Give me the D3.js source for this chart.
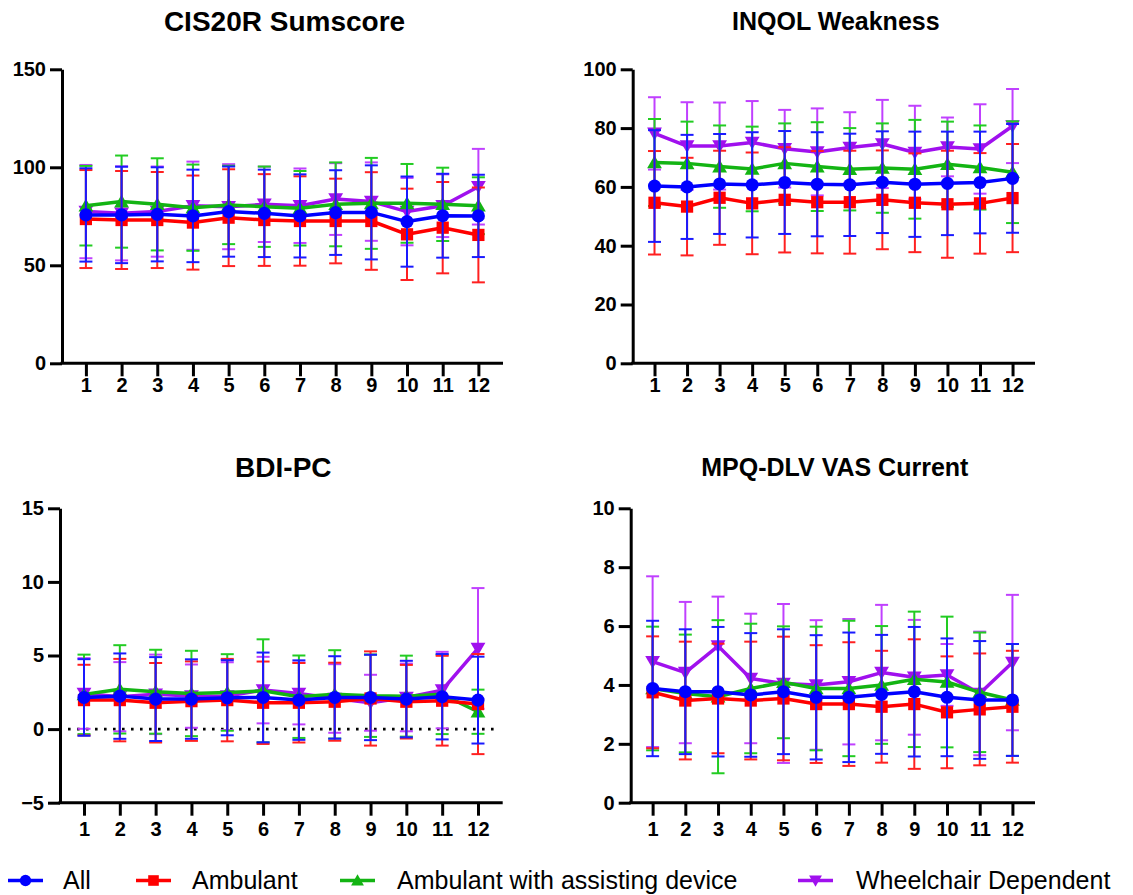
<!DOCTYPE html>
<html>
<head>
<meta charset="utf-8">
<script src="https://cdn.jsdelivr.net/npm/d3@7"></script>
<style>
  body { margin: 0; background: #fff; }
  svg { display: block; font-family: "Liberation Sans", Arial, sans-serif; }
</style>
</head>
<body>
<svg id="chart" width="1133" height="895"></svg>
<script>
// visits on the x axis
const visits = [1, 2, 3, 4, 5, 6, 7, 8, 9, 10, 11, 12];

// CIS20R Sumscore (mean, SD)
const cisAll = [75.7, 75.7, 76, 75.2, 77.4, 76.5, 75.2, 76.9, 77, 72.3, 75.3, 75.2];
const cisAllSd = [23.8, 24.6, 24, 23.6, 23, 22.3, 21.2, 21.6, 24, 23, 21.4, 21];
const cisAmb = [73.6, 73.1, 73.1, 71.8, 74.3, 73.1, 72.6, 72.6, 72.6, 65.8, 69.2, 65.5];
const cisAmbSd = [25, 25, 24.5, 24, 24.7, 23.4, 22.8, 21.6, 24.9, 23.3, 23.3, 24.2];
const cisAssist = [80.4, 82.5, 81.1, 79.4, 80.8, 79.9, 79.1, 81.1, 81.6, 81.6, 81.1, 80.4];
const cisAssistSd = [20.3, 23.5, 23.5, 22, 20, 20.5, 19, 21.4, 23.2, 20.1, 18.7, 14.5];
const cisWheel = [77.4, 76.5, 77.4, 80.4, 79.9, 81.1, 80.4, 83.8, 82.5, 77.4, 80.4, 90.1];
const cisWheelSd = [23.8, 24, 23, 22.5, 21.7, 19.2, 19, 18.3, 20, 17.2, 16, 19.3];

// INQOL Weakness
const inqAll = [60.3, 60, 61, 60.7, 61.5, 60.9, 60.7, 61.6, 60.9, 61.2, 61.5, 62.9];
const inqAllSd = [19, 17.7, 17, 17.9, 17.5, 17.7, 17.4, 17.3, 17.9, 17.6, 17.3, 18.5];
const inqAmb = [54.6, 53.3, 56.3, 54.4, 55.6, 54.8, 54.8, 55.6, 54.6, 54.1, 54.4, 56.2];
const inqAmbSd = [17.6, 16.6, 16, 17.3, 17.9, 17.4, 17.5, 16.8, 16.8, 18.2, 17.1, 18.4];
const inqAssist = [68.3, 68, 66.9, 66.1, 68, 66.9, 66, 66.4, 66, 67.7, 66.6, 65];
const inqAssistSd = [14.8, 14.2, 14, 14.4, 13.6, 15.1, 14, 15.2, 16.8, 14.5, 14.3, 17.3];
const inqWheel = [78.2, 73.9, 73.9, 75.1, 73, 71.9, 73.4, 74.6, 71.7, 73.6, 72.9, 80.7];
const inqWheelSd = [12.3, 14.9, 14.8, 14.1, 13.2, 14.8, 12, 15, 15.9, 10, 15.2, 12.6];

// BDI-PC
const bdiAll = [2.15, 2.24, 2.04, 2.04, 2.13, 2.15, 1.97, 2.15, 2.15, 2.04, 2.2, 1.97];
const bdiAllSd = [2.6, 2.9, 2.85, 2.7, 2.55, 3.05, 2.7, 2.8, 2.9, 2.6, 2.9, 2.95];
const bdiAmb = [1.97, 1.97, 1.79, 1.9, 1.97, 1.79, 1.79, 1.86, 2.08, 1.86, 1.93, 1.7];
const bdiAmbSd = [2.4, 2.8, 2.7, 2.7, 2.8, 2.8, 2.7, 2.65, 3.2, 2.5, 3.05, 3.4];
const bdiAssist = [2.36, 2.7, 2.54, 2.42, 2.49, 2.6, 2.2, 2.36, 2.27, 2.24, 2.36, 1.18];
const bdiAssistSd = [2.7, 3, 2.85, 2.9, 2.6, 3.5, 2.8, 3, 2.8, 2.75, 2.7, 1.5];
const bdiWheel = [2.42, 2.2, 2.36, 2.24, 2.24, 2.65, 2.42, 2.08, 1.79, 2.15, 2.65, 5.48];
const bdiWheelSd = [2.4, 2.35, 2.7, 2.15, 2.3, 2.26, 2.1, 2.33, 1.9, 2.3, 2.6, 4.1];

// MPQ-DLV VAS Current
const mpqAll = [3.88, 3.77, 3.77, 3.66, 3.77, 3.58, 3.58, 3.68, 3.77, 3.58, 3.49, 3.49];
const mpqAllSd = [2.3, 2.12, 2.2, 2.1, 2.12, 2.11, 2.2, 2.02, 2.2, 2, 2, 1.9];
const mpqAmb = [3.75, 3.47, 3.54, 3.47, 3.54, 3.35, 3.35, 3.26, 3.35, 3.07, 3.17, 3.26];
const mpqAmbSd = [1.9, 2, 1.86, 2, 2.1, 2, 2.1, 1.9, 2.2, 1.9, 1.9, 1.9];
const mpqAssist = [3.88, 3.71, 3.6, 3.88, 4.09, 3.88, 3.88, 4, 4.19, 4.1, 3.75, 3.49];
const mpqAssistSd = [2.1, 2, 2.6, 2.2, 1.9, 2.1, 2.3, 2, 2.3, 2.22, 2.03, 1.9];
const mpqWheel = [4.79, 4.42, 5.32, 4.22, 4.05, 4, 4.11, 4.42, 4.26, 4.34, 3.71, 4.76];
const mpqWheelSd = [2.9, 2.4, 1.68, 2.2, 2.7, 2.2, 2.13, 2.3, 1.95, 1.05, 2.1, 2.3];

const groupNames = ["All", "Ambulant", "Ambulant with assisting device", "Wheelchair Dependent"];

const groupStyle = [
  { line: "#0000ff", bar: "#1a1aff", symbol: d3.symbolCircle, size: 135, rot: 0 },
  { line: "#ff0000", bar: "#ff2020", symbol: d3.symbolSquare, size: 150, rot: 0 },
  { line: "#13b413", bar: "#22cc22", symbol: d3.symbolTriangle, size: 95, rot: 0 },
  { line: "#a010ee", bar: "#c040ff", symbol: d3.symbolTriangle, size: 95, rot: 180 }
];

const panels = [
  { title: "CIS20R Sumscore", x0: 62, x1: 503, yTop: 69.3, yBot: 363.3, domain: [0, 150], ticks: [0, 50, 100, 150],
    means: [cisAll, cisAmb, cisAssist, cisWheel], sds: [cisAllSd, cisAmbSd, cisAssistSd, cisWheelSd], titleY: 31, titleSize: 28, pad: 2 },
  { title: "INQOL Weakness", x0: 632.7, x1: 1035, yTop: 69.3, yBot: 363.3, domain: [0, 100], ticks: [0, 20, 40, 60, 80, 100],
    means: [inqAll, inqAmb, inqAssist, inqWheel], sds: [inqAllSd, inqAmbSd, inqAssistSd, inqWheelSd], titleY: 30, titleSize: 25, pad: 2 },
  { title: "BDI-PC", x0: 60, x1: 502.7, yTop: 508.3, yBot: 802.7, domain: [-5, 15], ticks: [-5, 0, 5, 10, 15],
    means: [bdiAll, bdiAmb, bdiAssist, bdiWheel], sds: [bdiAllSd, bdiAmbSd, bdiAssistSd, bdiWheelSd], titleY: 477, titleSize: 28, pad: 6, zeroLine: true },
  { title: "MPQ-DLV VAS Current", x0: 630.7, x1: 1035, yTop: 508.3, yBot: 802.7, domain: [0, 10], ticks: [0, 2, 4, 6, 8, 10],
    means: [mpqAll, mpqAmb, mpqAssist, mpqWheel], sds: [mpqAllSd, mpqAmbSd, mpqAssistSd, mpqWheelSd], titleY: 476, titleSize: 25, pad: 6 }
];

const svg = d3.select("#chart");

panels.forEach(p => {
  const g = svg.append("g");

  const x = d3.scaleLinear().domain([0.33, 12.69]).range([p.x0, p.x1]);
  const y = d3.scaleLinear().domain(p.domain).range([p.yBot, p.yTop]);

  // title
  g.append("text")
    .attr("x", (p.x0 + p.x1) / 2 + 2)
    .attr("y", p.titleY)
    .attr("text-anchor", "middle")
    .attr("font-size", p.titleSize)
    .attr("font-weight", "bold")
    .text(p.title);

  // axes
  const yAxis = g.append("g")
    .attr("transform", `translate(${p.x0},0)`)
    .call(d3.axisLeft(y).tickValues(p.ticks).tickSize(12).tickPadding(4).tickSizeOuter(0));
  const xAxis = g.append("g")
    .attr("transform", `translate(0,${p.yBot})`)
    .call(d3.axisBottom(x).tickValues(visits).tickSize(13).tickPadding(p.pad).tickSizeOuter(0).tickFormat(d3.format("d")));

  [yAxis, xAxis].forEach(ax => {
    ax.select(".domain").attr("stroke", "#000").attr("stroke-width", 3);
    ax.selectAll(".tick line").attr("stroke", "#000").attr("stroke-width", 3);
    ax.selectAll(".tick text")
      .attr("fill", "#000")
      .attr("font-size", 20)
      .attr("font-weight", "bold")
      .attr("font-family", "'Liberation Sans', Arial, sans-serif");
  });
  // x domain should start at the y axis line
  xAxis.select(".domain").attr("d", `M${p.x0 - 1.5},0H${p.x1}`);

  if (p.zeroLine) {
    g.append("line")
      .attr("x1", p.x0 + 8).attr("x2", p.x1 - 6)
      .attr("y1", y(0)).attr("y2", y(0))
      .attr("stroke", "#000")
      .attr("stroke-width", 2.6)
      .attr("stroke-dasharray", "2.6,6.4");
  }

  // draw in reverse so "All" ends up on top
  for (let s = 3; s >= 0; s--) {
    const st = groupStyle[s];
    const m = p.means[s], sd = p.sds[s];
    const pts = visits.map((v, i) => ({ v, m: m[i], sd: sd[i] }));
    const sg = g.append("g");

    const bars = sg.selectAll(".eb").data(pts).enter().append("g").attr("class", "eb");
    bars.append("line")
      .attr("x1", d => x(d.v)).attr("x2", d => x(d.v))
      .attr("y1", d => y(d.m + d.sd)).attr("y2", d => y(d.m - d.sd))
      .attr("stroke", st.bar).attr("stroke-width", 2);
    [1, -1].forEach(sign => {
      bars.append("line")
        .attr("x1", d => x(d.v) - 6.5).attr("x2", d => x(d.v) + 6.5)
        .attr("y1", d => y(d.m + sign * d.sd)).attr("y2", d => y(d.m + sign * d.sd))
        .attr("stroke", st.bar).attr("stroke-width", 2);
    });

    sg.append("path")
      .datum(pts)
      .attr("fill", "none")
      .attr("stroke", st.line)
      .attr("stroke-width", 3.5)
      .attr("stroke-linejoin", "round")
      .attr("d", d3.line().x(d => x(d.v)).y(d => y(d.m)));

    sg.selectAll(".mk").data(pts).enter().append("path")
      .attr("class", "mk")
      .attr("d", d3.symbol().type(st.symbol).size(st.size))
      .attr("transform", d => `translate(${x(d.v)},${y(d.m) + (st.symbol === d3.symbolTriangle ? (st.rot ? -1.5 : 1.5) : 0)}) rotate(${st.rot})`)
      .attr("fill", st.line);
  }
});

// legend
const legendX = [8, 136, 340, 798];
const legend = svg.append("g");
groupNames.forEach((name, i) => {
  const st = groupStyle[i];
  const lg = legend.append("g").attr("transform", `translate(${legendX[i]},880.5)`);
  lg.append("line")
    .attr("x1", 0).attr("x2", 35).attr("y1", 0).attr("y2", 0)
    .attr("stroke", st.line).attr("stroke-width", 3.5);
  lg.append("path")
    .attr("d", d3.symbol().type(st.symbol).size(st.size * 0.75))
    .attr("transform", `translate(17.5,${st.symbol === d3.symbolTriangle ? (st.rot ? -1.2 : 1.2) : 0}) rotate(${st.rot})`)
    .attr("fill", st.line);
  lg.append("text")
    .attr("x", [55, 56, 57, 58][i])
    .attr("y", 8.5)
    .attr("font-size", 25)
    .text(name);
});
</script>
</body>
</html>
